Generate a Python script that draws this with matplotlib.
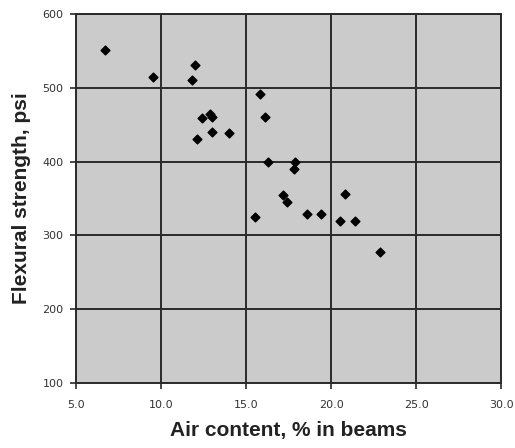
import matplotlib
matplotlib.use("Agg")
import matplotlib.pyplot as plt

air_content = [6.7, 9.5, 12.0, 11.8, 12.4, 12.9, 13.0, 13.0, 14.0, 12.1,
               15.8, 16.1, 16.3, 17.9, 17.8, 17.2, 17.4, 15.5, 18.6, 19.4,
               20.8, 20.5, 21.4, 22.9]
flexural = [551, 515, 531, 510, 459, 465, 460, 440, 439, 431,
            491, 460, 400, 400, 390, 355, 345, 325, 329, 329,
            356, 319, 319, 277]

xticks = [5, 10, 15, 20, 25, 30]
xticklabels = ["5.0", "10.0", "15.0", "20.0", "25.0", "30.0"]
yticks = [100, 200, 300, 400, 500, 600]
yticklabels = ["100", "200", "300", "400", "500", "600"]

fig = plt.figure(figsize=(5.15, 4.48), dpi=100)
ax = fig.add_axes([0.1476, 0.145, 0.8254, 0.824])
ax.set_facecolor("#cbcbcb")
ax.scatter(air_content, flexural, marker="D", s=20, color="black", zorder=3)

ax.set_xlim(5, 30)
ax.set_ylim(100, 600)
ax.set_xticks(xticks)
ax.set_xticklabels(xticklabels)
ax.set_yticks(yticks)
ax.set_yticklabels(yticklabels)
ax.grid(True, color="#2a2a2a", linewidth=1.4)
ax.set_axisbelow(True)
for s in ax.spines.values():
    s.set_color("#2a2a2a")
    s.set_linewidth(1.4)
ax.tick_params(direction="out", length=4, width=1.2, color="#2a2a2a",
               labelsize=8, labelcolor="#333333", pad=5)
ax.tick_params(axis="x", pad=8)
for lab in ax.get_xticklabels() + ax.get_yticklabels():
    lab.set_family("Liberation Sans Narrow")

ax.set_xlabel("Air content, % in beams", fontsize=15, fontweight="bold",
              family="Liberation Sans", color="#222222", labelpad=8)
ax.set_ylabel("Flexural strength, psi", fontsize=15, fontweight="bold",
              family="Liberation Sans", color="#222222", labelpad=8)

fig.savefig("out.png", dpi=100)
